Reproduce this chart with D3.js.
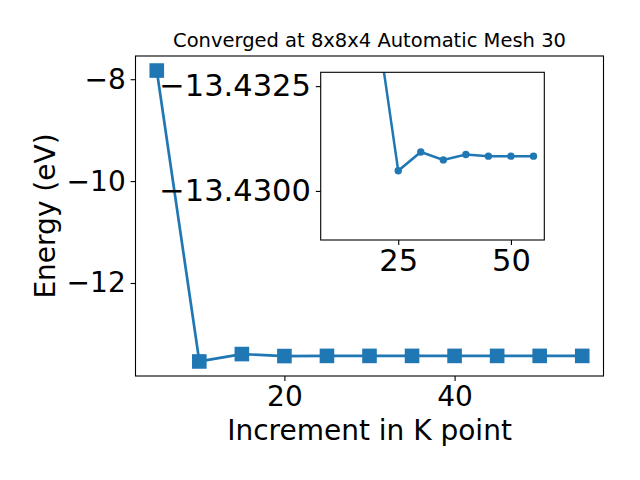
<!DOCTYPE html>
<html><head><meta charset="utf-8">
<script src="https://cdn.jsdelivr.net/npm/d3@7"></script>
<style>body{margin:0;background:#fff}svg{display:block}text{font-family:"DejaVu Sans",sans-serif;fill:#000}</style>
</head><body>
<script>
const kpoints = [5,10,15,20,25,30,35,40,45,50,55];
const energy = [-7.83,-13.54,-13.395,-13.4342,-13.43048,-13.43093,-13.43074,-13.43087,-13.43083,-13.43083,-13.43083];
const insetStartK = 20;
const mainXTicks = [20,40];
const mainYTicks = [-8,-10,-12];
const insetXTicks = [25,50];
const insetYTicks = [-13.4325,-13.4300];
const title = "Converged at 8x8x4 Automatic Mesh 30";
const xLabel = "Increment in K point";
const yLabel = "Energy (eV)";
const color = "#1f77b4";

const W=640,H=480;
const svg=d3.select("body").append("svg").attr("width",W).attr("height",H);
svg.append("rect").attr("width",W).attr("height",H).attr("fill","#fff");

const M={l:135.5,r:603.5,t:56,b:376};
const x=d3.scaleLinear().domain([2.5,57.5]).range([M.l,M.r]);
const ext=d3.extent(energy), pad=(ext[1]-ext[0])*0.05;
const y=d3.scaleLinear().domain([ext[0]-pad,ext[1]+pad]).range([M.b,M.t]);
const data=kpoints.map((k,i)=>({k,e:energy[i]}));
const fmt=d3.format("d");

const main=svg.append("g");
const line=d3.line().x(d=>x(d.k)).y(d=>y(d.e));
main.append("path").datum(data).attr("d",line).attr("fill","none").attr("stroke",color).attr("stroke-width",2.7);
main.selectAll("rect.m").data(data).enter().append("rect").attr("class","m")
  .attr("x",d=>x(d.k)-7.3).attr("y",d=>y(d.e)-7.3).attr("width",14.6).attr("height",14.6).attr("fill",color);

function styleAxis(g,fs){
  g.select(".domain").remove();
  g.selectAll(".tick line").attr("stroke","#000").attr("stroke-width",1.1);
  g.selectAll(".tick text").style("font-size",fs+"px").style("font-family","DejaVu Sans");
}
const gx=main.append("g").attr("transform",`translate(0,${M.b})`)
  .call(d3.axisBottom(x).tickValues(mainXTicks).tickFormat(fmt).tickSize(4.9).tickPadding(4.9));
styleAxis(gx,28);
const gy=main.append("g").attr("transform",`translate(${M.l},0)`)
  .call(d3.axisLeft(y).tickValues(mainYTicks).tickFormat(d3.format("d")).tickSize(4.9).tickPadding(4.9));
styleAxis(gy,28);
main.append("rect").attr("x",M.l).attr("y",M.t).attr("width",M.r-M.l).attr("height",M.b-M.t)
  .attr("fill","none").attr("stroke","#000").attr("stroke-width",1.1);

svg.append("text").attr("x",(M.l+M.r)/2).attr("y",47).attr("text-anchor","middle").style("font-size","19.5px").text(title);
svg.append("text").attr("x",(M.l+M.r)/2).attr("y",440).attr("text-anchor","middle").style("font-size","28px").text(xLabel);
svg.append("text").attr("transform",`translate(55,${(M.t+M.b)/2}) rotate(-90)`).attr("text-anchor","middle").style("font-size","28px").text(yLabel);

// inset
const I={l:320.7,r:544.3,t:72.3,b:240};
const xi=d3.scaleLinear().domain([7.8,57.4]).range([I.l,I.r]);
const yi=d3.scaleLinear().domain([-13.42883,-13.43283]).range([I.b,I.t]);
const idata=data.filter(d=>d.k>=insetStartK);
const ins=svg.append("g");
ins.append("rect").attr("x",I.l).attr("y",I.t).attr("width",I.r-I.l).attr("height",I.b-I.t).attr("fill","#fff");
ins.append("clipPath").attr("id","ic").append("rect").attr("x",I.l).attr("y",I.t).attr("width",I.r-I.l).attr("height",I.b-I.t);
const cg=ins.append("g").attr("clip-path","url(#ic)");
const linei=d3.line().x(d=>xi(d.k)).y(d=>yi(d.e));
cg.append("path").datum(idata).attr("d",linei).attr("fill","none").attr("stroke",color).attr("stroke-width",2.5);
cg.selectAll("circle").data(idata).enter().append("circle").attr("cx",d=>xi(d.k)).attr("cy",d=>yi(d.e)).attr("r",3.7).attr("fill",color);
const gxi=ins.append("g").attr("transform",`translate(0,${I.b})`)
  .call(d3.axisBottom(xi).tickValues(insetXTicks).tickFormat(fmt).tickSize(4.9).tickPadding(4.9));
styleAxis(gxi,30.5);
const gyi=ins.append("g").attr("transform",`translate(${I.l},0)`)
  .call(d3.axisLeft(yi).tickValues(insetYTicks).tickFormat(d3.format(".4f")).tickSize(4.9).tickPadding(4.9));
styleAxis(gyi,30.5);
ins.append("rect").attr("x",I.l).attr("y",I.t).attr("width",I.r-I.l).attr("height",I.b-I.t)
  .attr("fill","none").attr("stroke","#000").attr("stroke-width",1.1);
</script>
</body></html>
